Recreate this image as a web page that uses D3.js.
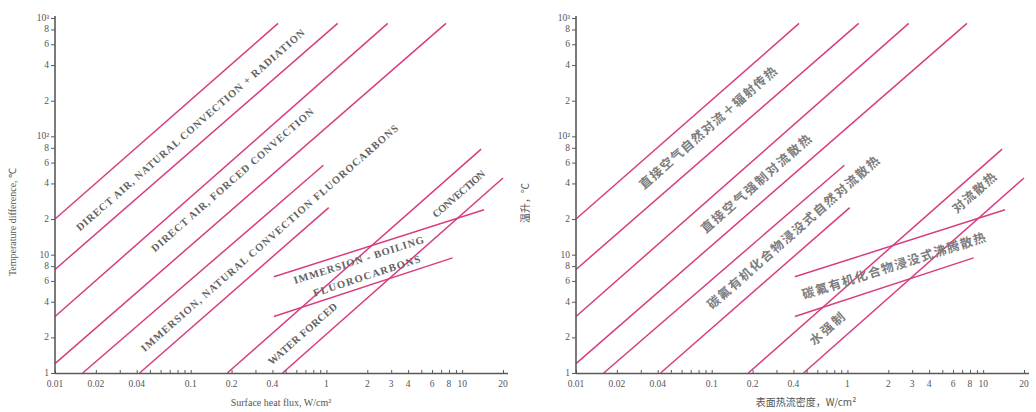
<!DOCTYPE html>
<html><head><meta charset="utf-8">
<script src="https://cdn.jsdelivr.net/npm/d3@7"></script>
<style>body{margin:0;background:#fff}svg{display:block}</style>
</head><body>
<svg id="c" width="1036" height="412"></svg>
<script>
// ---- data (heat flux W/cm², temperature difference °C) ----
const heatFluxStart = [0.01, 0.01, 0.01, 0.01, 0.016, 0.042, 0.186, 0.475, 0.41, 0.41];
const tempStart     = [20,   7.5,  3,    1.2,  1,     1,     1,     1,     6.5,  3.0];
const heatFluxEnd   = [0.44, 1.21, 2.83, 7.6,  0.95,  1.04,  13.8,  20,    14.5, 8.5];
const tempEnd       = [900,  900,  900,  900,  57,    25,    78,    44.5,  24,   9.4];

const xTickValues = [0.01,0.02,0.04,0.1,0.2,0.4,1,2,3,4,6,8,10,20];
const xTickLabels = ["0.01","0.02","0.04","0.1","0.2","0.4","1","2","3","4","6","8","10","20"];
const yTickValues = [1,2,4,6,8,10,20,40,60,80,100,200,400,600,800,1000];
const yTickLabels = ["1","2","4","6","8","10","2","4","6","8","10²","2","4","6","8","10³"];

const labelsEN = ["DIRECT AIR, NATURAL CONVECTION + RADIATION","DIRECT AIR, FORCED CONVECTION",
  "IMMERSION, NATURAL CONVECTION FLUOROCARBONS","IMMERSION - BOILING","FLUOROCARBONS","CONVECTION","WATER FORCED"];
const labelQEN = [0.0995, 0.203, 0.381, 1.73, 1.98, 9.46, 0.667];
const labelTEN = [113, 42.8, 13.8, 9.0, 6.6, 32.6, 2.14];
const labelsZH = ["直接空气自然对流＋辐射传热","直接空气强制对流散热","碳氟有机化合物浸没式自然对流散热",
  "碳氟有机化合物浸没式沸腾散热","对流散热","水强制"];
const labelQZH = [0.0928, 0.21, 0.394, 2.19, 8.5, 0.70];
const labelTZH = [120, 40.4, 15.6, 8.2, 33.9, 2.4];

// ---- style / layout ----
const labelRefEN = [0,0,0,8,9,0,0];      // which line gives the text direction
const labelLenEN = [300,212,338,136,112,66,88];
const labelRefZH = [0,0,0,8,0,0];
const labelLenZH = [178,142,224,192,54,42];

const svg = d3.select("#c");
const lineColor = "#d83d80", axisColor = "#5a5a5a", textColor = "#555";

function panel(x0, x1, labels, lq, lt, lref, llen, isZH, yTitle, xTitle, yTitleX, xTitleX) {
  const x = d3.scaleLog().domain([0.01, 20]).range([x0, x1]);
  const y = d3.scaleLog().domain([1, 1000]).range([373, 18]);
  const g = svg.append("g");
  // lines
  const idx = d3.range(heatFluxStart.length);
  g.selectAll("line.m").data(idx).join("line")
    .attr("x1", i => x(heatFluxStart[i])).attr("y1", i => y(tempStart[i]))
    .attr("x2", i => x(heatFluxEnd[i])).attr("y2", i => y(tempEnd[i]))
    .attr("stroke", lineColor).attr("stroke-width", 1.5);
  // axes
  const xAxis = d3.axisBottom(x).tickValues(d3.range(1,10).flatMap(k=>[k*0.01,k*0.1,k,k*10]).filter(v=>v<=20))
    .tickSize(-3).tickFormat("");
  const gx = g.append("g").attr("transform","translate(0,373)").call(xAxis);
  gx.select(".domain").remove();
  gx.selectAll("line").attr("stroke", axisColor).attr("stroke-width",1);
  g.append("line").attr("x1", x0).attr("x2", x1+5).attr("y1",373.5).attr("y2",373.5)
    .attr("stroke", axisColor).attr("stroke-width",1.6);
  g.selectAll("text.xt").data(xTickValues).join("text")
    .attr("x", d => x(d)).attr("y", 387).attr("text-anchor","middle")
    .attr("font-family","Liberation Serif").attr("font-size",9.5).attr("fill",textColor)
    .text((d,i)=>xTickLabels[i]);
  const yAxis = d3.axisLeft(y).tickValues(yTickValues).tickSize(4).tickFormat("");
  const gy = g.append("g").attr("transform",`translate(${x0},0)`).call(yAxis);
  gy.select(".domain").remove();
  gy.selectAll("line").attr("stroke", axisColor).attr("stroke-width",1);
  g.append("line").attr("x1", x0).attr("x2", x0).attr("y1",16).attr("y2",374)
    .attr("stroke", axisColor).attr("stroke-width",1.6);
  g.selectAll("text.yt").data(yTickValues).join("text")
    .attr("x", x0-6).attr("y", d => y(d)+3).attr("text-anchor","end")
    .attr("font-family","Liberation Serif").attr("font-size",9.5).attr("fill",textColor)
    .text((d,i)=>yTickLabels[i]);
  // titles
  g.append("text").attr("transform",`translate(${yTitleX},${isZH?203:222}) rotate(-90)`)
    .attr("text-anchor","middle").attr("font-family", isZH?"Noto Sans CJK SC":"Liberation Serif")
    .attr("font-size", 10).attr("fill",textColor).text(yTitle);
  g.append("text").attr("x", xTitleX).attr("y", 406).attr("text-anchor","middle")
    .attr("font-family", isZH?"Noto Sans CJK SC":"Liberation Serif")
    .attr("font-size", 10).attr("fill",textColor).text(xTitle);
  // labels
  labels.forEach((s,i) => {
    const r = lref[i];
    const ang = Math.atan2(y(tempEnd[r])-y(tempStart[r]), x(heatFluxEnd[r])-x(heatFluxStart[r]))*180/Math.PI;
    g.append("text")
      .attr("transform",`translate(${x(lq[i])},${y(lt[i])}) rotate(${ang})`)
      .attr("text-anchor","middle").attr("dominant-baseline","central")
      .attr("font-family", isZH?"Noto Sans CJK SC":"Liberation Serif")
      .attr("font-weight","bold").attr("font-size", isZH?12.5:10.5)
      .attr("fill", isZH?"#7d7d7d":"#626262")
      .attr("textLength", llen[i]).attr("lengthAdjust","spacing")
      .text(s);
  });
}

panel(55, 503, labelsEN, labelQEN, labelTEN, labelRefEN, labelLenEN, false,
  "Temperature difference, ℃", "Surface heat flux, W/cm²", 16, 281);
panel(576, 1024, labelsZH, labelQZH, labelTZH, labelRefZH, labelLenZH, true,
  "温升，℃", "表面热流密度，W/cm²", 529, 806);
</script>
</body></html>
